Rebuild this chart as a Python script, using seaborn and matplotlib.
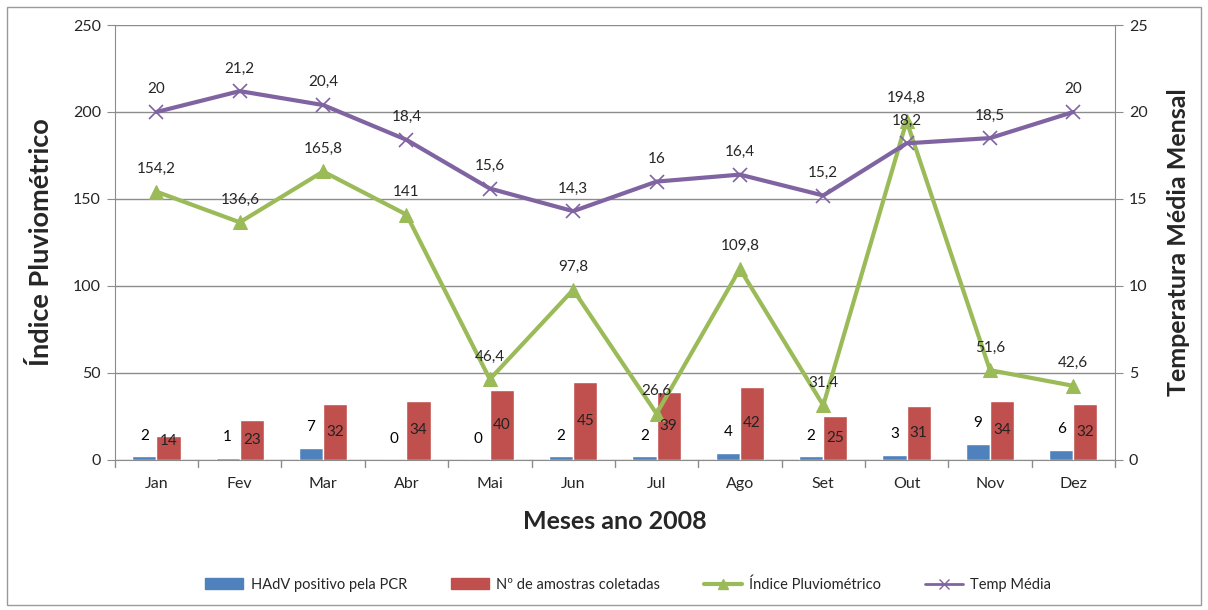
import matplotlib
matplotlib.use("Agg")
import matplotlib.pyplot as plt
import matplotlib.patches as mpatches
from matplotlib.lines import Line2D
import seaborn as sns
import pandas as pd
import numpy as np

months = ["Jan", "Fev", "Mar", "Abr", "Mai", "Jun", "Jul", "Ago", "Set", "Out", "Nov", "Dez"]
hadv = [2, 1, 7, 0, 0, 2, 2, 4, 2, 3, 9, 6]
amostras = [14, 23, 32, 34, 40, 45, 39, 42, 25, 31, 34, 32]
pluvio = [154.2, 136.6, 165.8, 141, 46.4, 97.8, 26.6, 109.8, 31.4, 194.8, 51.6, 42.6]
temp = [20, 21.2, 20.4, 18.4, 15.6, 14.3, 16, 16.4, 15.2, 18.2, 18.5, 20]

s_hadv = "HAdV positivo pela PCR"
s_amo = "Nº de amostras coletadas"
s_plu = "Índice Pluviométrico"
s_tmp = "Temp Média"

c_blue = "#4F81BD"
c_red = "#C0504D"
c_green = "#9BBB59"
c_purple = "#8064A2"

sns.set_style("white")
plt.rcParams["font.family"] = ["Lato", "DejaVu Sans"]

fig = plt.figure(figsize=(12.08, 6.10), dpi=100)
ax = fig.add_axes([0.095, 0.246, 0.828, 0.713])

bars = pd.DataFrame({
    "Mes": months * 2,
    "valor": hadv + amostras,
    "serie": [s_hadv] * 12 + [s_amo] * 12,
})
sns.barplot(data=bars, x="Mes", y="valor", hue="serie", order=months,
            hue_order=[s_hadv, s_amo], palette=[c_blue, c_red], width=0.58,
            dodge=True, legend=False, ax=ax, errorbar=None, saturation=1)

xs = np.arange(len(months))
lines = pd.DataFrame({"x": xs, "pluvio": pluvio, "temp": temp})
sns.lineplot(data=lines, x="x", y="pluvio", color=c_green, lw=3, marker="^",
             markersize=10, markeredgecolor=c_green, ax=ax, zorder=4)

ax2 = ax.twinx()
ax2.set_position(ax.get_position())
sns.lineplot(data=lines, x="x", y="temp", color=c_purple, lw=3, marker="x",
             markersize=10, markeredgewidth=1.2, markeredgecolor=c_purple, ax=ax2, zorder=4)

ax.set_xlim(-0.5, 11.5)
ax.set_ylim(0, 250)
ax2.set_ylim(0, 25)
ax.set_yticks(range(0, 251, 50))
ax2.set_yticks(range(0, 26, 5))
ax.yaxis.grid(True, color="#8c8c8c", lw=1)
ax.set_axisbelow(True)

for a in (ax, ax2):
    for sp in a.spines.values():
        sp.set_color("#8c8c8c")
    a.spines["top"].set_visible(False)
ax.spines["right"].set_visible(False)
ax2.spines["left"].set_visible(False)
ax2.spines["bottom"].set_visible(False)

ax.set_xticks(xs)
ax.set_xticklabels(months, fontsize=11.5)
ax.tick_params(axis="y", direction="out", length=6, color="#8c8c8c", labelsize=11.5, pad=4, left=True)
ax2.tick_params(axis="y", direction="out", length=6, color="#8c8c8c", labelsize=11.5, pad=4, right=True)
ax.tick_params(axis="x", length=0, pad=12)
ax2.tick_params(axis="x", length=0, labelbottom=False, bottom=False)
for b in np.arange(-0.5, 12, 1):
    ax.plot([b, b], [0, -4], color="#8c8c8c", lw=1, clip_on=False, zorder=1)

ax.set_xlabel("Meses ano 2008", fontsize=18, fontweight="bold", labelpad=14)
ax.set_ylabel("Índice Pluviométrico", fontsize=19.5, fontweight="bold", labelpad=14)
ax2.set_ylabel("Temperatura Média Mensal", fontsize=18, fontweight="bold", labelpad=14)
ax2.set_xlabel("")

bw = 0.29
for i in range(12):
    ax.text(i - bw / 2, hadv[i] + 8, str(hadv[i]), ha="center", va="bottom", fontsize=11, color="black", zorder=5)
    ax.text(i + bw / 2, max(amostras[i] / 2, 11), str(amostras[i]), ha="center", va="center", fontsize=11, color="#222222", zorder=5)
    ax.text(i, pluvio[i] + 9, f"{pluvio[i]:g}".replace(".", ","), ha="center", va="bottom", fontsize=11, zorder=6)
    ax2.text(i, temp[i] + 0.9, f"{temp[i]:g}".replace(".", ","), ha="center", va="bottom", fontsize=11, zorder=6)

handles = [
    mpatches.Patch(color=c_blue, label=s_hadv),
    mpatches.Patch(color=c_red, label=s_amo),
    Line2D([0], [0], color=c_green, lw=3, marker="^", markersize=7, label=s_plu),
    Line2D([0], [0], color=c_purple, lw=2, marker="x", markersize=7, label=s_tmp),
]
fig.legend(handles=handles, loc="center", bbox_to_anchor=(0.52, 0.042), ncol=4,
           frameon=False, fontsize=10.5, handlelength=2.6, columnspacing=3.0, handletextpad=0.5)

fig.patches.append(mpatches.Rectangle((0.006, 0.008), 0.988, 0.98, transform=fig.transFigure,
                                      fill=False, edgecolor="#9a9a9a", lw=1))

fig.savefig("out.png", dpi=100)
